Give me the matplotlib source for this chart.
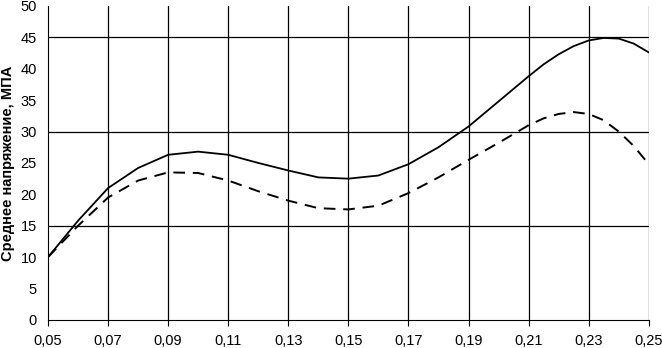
import numpy as np
import matplotlib.pyplot as plt

plt.rcParams['font.family'] = ['Liberation Sans', 'DejaVu Sans']

x = [0.05, 0.06, 0.07, 0.08, 0.09, 0.10, 0.11, 0.12, 0.13, 0.14, 0.15,
     0.16, 0.17, 0.18, 0.19, 0.20, 0.21, 0.215, 0.22, 0.225, 0.23, 0.235,
     0.24, 0.245, 0.25]
solid = [10.0, 15.8, 21.0, 24.2, 26.3, 26.8, 26.3, 25.0, 23.8, 22.7, 22.5,
         23.0, 24.8, 27.5, 30.8, 34.8, 38.8, 40.7, 42.3, 43.6, 44.5, 44.9,
         44.8, 44.0, 42.6]
dashed = [10.0, 15.0, 19.5, 22.2, 23.5, 23.4, 22.2, 20.5, 19.0, 17.8, 17.6,
          18.2, 20.2, 22.7, 25.5, 28.2, 31.0, 32.1, 32.8, 33.1, 32.8, 31.8,
          30.0, 27.7, 24.8]

xticks = [0.05, 0.07, 0.09, 0.11, 0.13, 0.15, 0.17, 0.19, 0.21, 0.23, 0.25]
yticks = list(range(0, 51, 5))

fig = plt.figure(figsize=(6.62, 3.48), dpi=100)
ax = fig.add_axes([0.0725, 0.0805, 0.9075, 0.9025])

ax.plot(x, solid, color='black', lw=1.3)
ax.plot(x, dashed, color='black', lw=1.4, dashes=(6, 4))

ax.set_xlim(0.05, 0.25)
ax.set_ylim(0, 50)
ax.set_xticks(xticks)
ax.set_xticklabels([f"{t:.2f}".replace('.', ',') for t in xticks])
ax.set_yticks(yticks)
for v in [15, 30, 45]:
    ax.axhline(v, color='black', lw=0.9)
for t in xticks[1:]:
    ax.axvline(t, color='black', lw=0.9)

ax.spines['top'].set_visible(False)
ax.spines['right'].set_visible(False)
ax.tick_params(axis='x', length=4, labelsize=10.5, pad=6)
ax.tick_params(axis='y', length=0, labelsize=10.5, pad=8)
ax.set_ylabel('Среднее напряжение, МПА', fontsize=10.5, fontweight='bold', labelpad=4)

fig.savefig('out.png', dpi=100)
